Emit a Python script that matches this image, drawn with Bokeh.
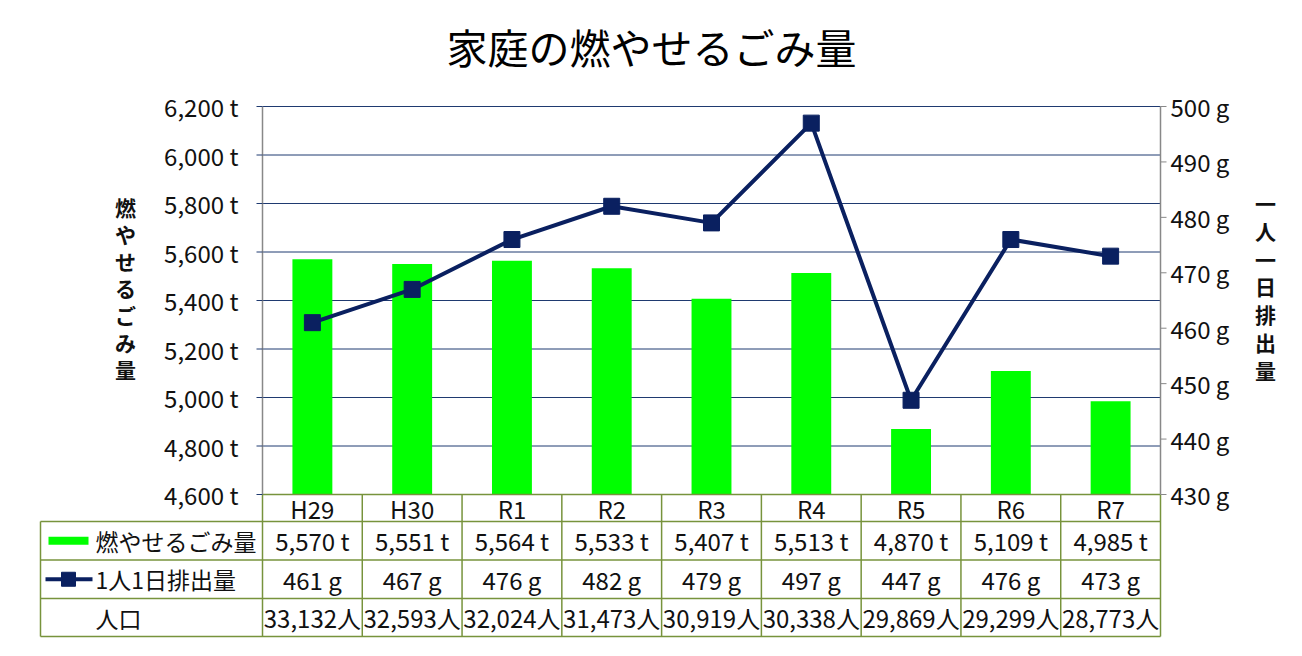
from bokeh.plotting import figure
from bokeh.models import Range1d
from bokeh.core.properties import value
from bokeh.embed import file_html
from bokeh.resources import INLINE

# ---------------- data ----------------
chart_title = "家庭の燃やせるごみ量"
categories = ["H29", "H30", "R1", "R2", "R3", "R4", "R5", "R6", "R7"]
waste_t = [5570, 5551, 5564, 5533, 5407, 5513, 4870, 5109, 4985]
per_person_g = [461, 467, 476, 482, 479, 497, 447, 476, 473]
population = [33132, 32593, 32024, 31473, 30919, 30338, 29869, 29299, 28773]
t_ticks = [4600, 4800, 5000, 5200, 5400, 5600, 5800, 6000, 6200]
g_ticks = [430, 440, 450, 460, 470, 480, 490, 500]
row_names = ["燃やせるごみ量", "1人1日排出量", "人口"]
left_title = "燃やせるごみ量"
right_title = "一人一日排出量"

# ---------------- layout (pixels) ----------------
W, H = 1302, 656
PT, PB = 106, 494     # plot area top / bottom
PL, PR = 262, 1160    # plot area left / right
TL = 40               # table left edge
row_lines_px = [494, 521, 559.5, 598, 636]
FONT = "Noto Sans CJK JP"
GREEN = "#00FF00"
NAVY = "#0A2060"
GRID = "#1F3A70"
OLIVE = "#77933C"
GRAY = "#888888"
TXT = "#111111"

n = len(categories)
col_w = (PR - PL) / n
t_lo, t_hi = t_ticks[0], t_ticks[-1]
g_lo, g_hi = g_ticks[0], g_ticks[-1]
tpp = (t_hi - t_lo) / (PB - PT)
gpp = (g_hi - g_lo) / (PB - PT)


def px_x(px):
    return (px - PL) / col_w


def px_y(py):
    return H - py


p = figure(width=W, height=H, output_backend="svg", toolbar_location=None, title=None,
           x_range=Range1d(px_x(0), px_x(W)),
           y_range=Range1d(t_lo - (H - PB) * tpp, t_hi + PT * tpp),
           x_axis_type=None, y_axis_type=None,
           min_border_left=0, min_border_right=0,
           min_border_top=0, min_border_bottom=0)
p.extra_y_ranges = {
    "g": Range1d(g_lo - (H - PB) * gpp, g_hi + PT * gpp),
    "tbl": Range1d(0, H),
}
p.outline_line_color = None
p.grid.visible = False
p.background_fill_color = "white"
p.border_fill_color = "white"

xs = [i + 0.5 for i in range(n)]

# title
p.text(x=[px_x(651)], y=[px_y(45)], text=[chart_title], y_range_name="tbl",
       text_align="center", text_baseline="middle", text_font=value(FONT),
       text_font_size="41px", text_color="#000000")

# gridlines
gy = t_ticks[1:]
p.segment(x0=[0] * len(gy), x1=[n] * len(gy), y0=gy, y1=gy, line_color=GRID, line_width=1)

# bars
p.vbar(x=xs, top=waste_t, bottom=t_lo, width=0.4, fill_color=GREEN, line_color=None)

# line
p.line(x=xs, y=per_person_g, y_range_name="g", line_color=NAVY, line_width=4)
p.scatter(x=xs, y=per_person_g, y_range_name="g", marker="square", size=16,
          fill_color=NAVY, line_color=NAVY)

# table lines
xl = px_x(TL)
hy = [px_y(v) for v in row_lines_px]
p.segment(x0=[0] + [xl] * (len(hy) - 1), x1=[n] * len(hy), y0=hy, y1=hy,
          y_range_name="tbl", line_color=OLIVE, line_width=1.5)
vx = list(range(n + 1))
p.segment(x0=vx, x1=vx, y0=[hy[0]] * len(vx), y1=[hy[-1]] * len(vx),
          y_range_name="tbl", line_color=OLIVE, line_width=1.5)
p.segment(x0=[xl], x1=[xl], y0=[hy[1]], y1=[hy[-1]], y_range_name="tbl",
          line_color=OLIVE, line_width=1.5)

# left axis
p.segment(x0=[0], x1=[0], y0=[t_lo], y1=[t_hi], line_color=GRAY, line_width=1.5)
p.segment(x0=[px_x(PL - 6)] * len(t_ticks), x1=[0] * len(t_ticks), y0=t_ticks, y1=t_ticks,
          line_color=GRID, line_width=1)
p.text(x=[px_x(PL - 24)] * len(t_ticks), y=t_ticks, text=[f"{v:,} t" for v in t_ticks],
       text_align="right", text_baseline="middle", text_font=value(FONT),
       text_font_size="24px", text_color=TXT)
p.text(x=[px_x(125)], y=[px_y(287)], text=["\n".join(left_title)], y_range_name="tbl",
       text_align="center", text_baseline="middle", text_font=value(FONT),
       text_font_size="21px", text_font_style="bold", text_line_height=0.9,
       text_color=TXT)

# right axis
p.segment(x0=[n], x1=[n], y0=[g_lo], y1=[g_hi], y_range_name="g",
          line_color=GRAY, line_width=1.5)
p.segment(x0=[n] * len(g_ticks), x1=[px_x(PR + 6)] * len(g_ticks), y0=g_ticks, y1=g_ticks,
          y_range_name="g", line_color=GRAY, line_width=1)
p.text(x=[px_x(PR + 10)] * len(g_ticks), y=g_ticks, text=[f"{v} g" for v in g_ticks],
       y_range_name="g", text_align="left", text_baseline="middle", text_font=value(FONT),
       text_font_size="24px", text_color=TXT)
p.text(x=[px_x(1265)], y=[px_y(286)], text=["\n".join(right_title)], y_range_name="tbl",
       text_align="center", text_baseline="middle", text_font=value(FONT),
       text_font_size="21px", text_font_style="bold", text_line_height=0.93,
       text_color=TXT)

# table text
row_c = [(hy[i] + hy[i + 1]) / 2 for i in range(len(hy) - 1)]
cells = [categories,
         [f"{v:,} t" for v in waste_t],
         [f"{v} g" for v in per_person_g],
         [f"{v:,}人" for v in population]]
for r, texts in enumerate(cells):
    p.text(x=xs, y=[row_c[r]] * n, text=texts, y_range_name="tbl",
           text_align="center", text_baseline="middle", text_font=value(FONT),
           text_font_size="24px", text_color=TXT)

# row headers with legend keys
p.text(x=[px_x(95)] * 3, y=row_c[1:], text=row_names, y_range_name="tbl",
       text_align="left", text_baseline="middle", text_font=value(FONT),
       text_font_size="23px", text_color=TXT)
p.rect(x=[px_x(68)], y=[row_c[1]], width=40 / col_w, height=8, y_range_name="tbl",
       fill_color=GREEN, line_color=None)
p.segment(x0=[px_x(45)], x1=[px_x(92)], y0=[row_c[2]], y1=[row_c[2]], y_range_name="tbl",
          line_color=NAVY, line_width=4)
p.scatter(x=[px_x(68)], y=[row_c[2]], y_range_name="tbl", marker="square", size=14,
          fill_color=NAVY, line_color=NAVY)

open("out.html", "w").write(file_html(p, INLINE))
